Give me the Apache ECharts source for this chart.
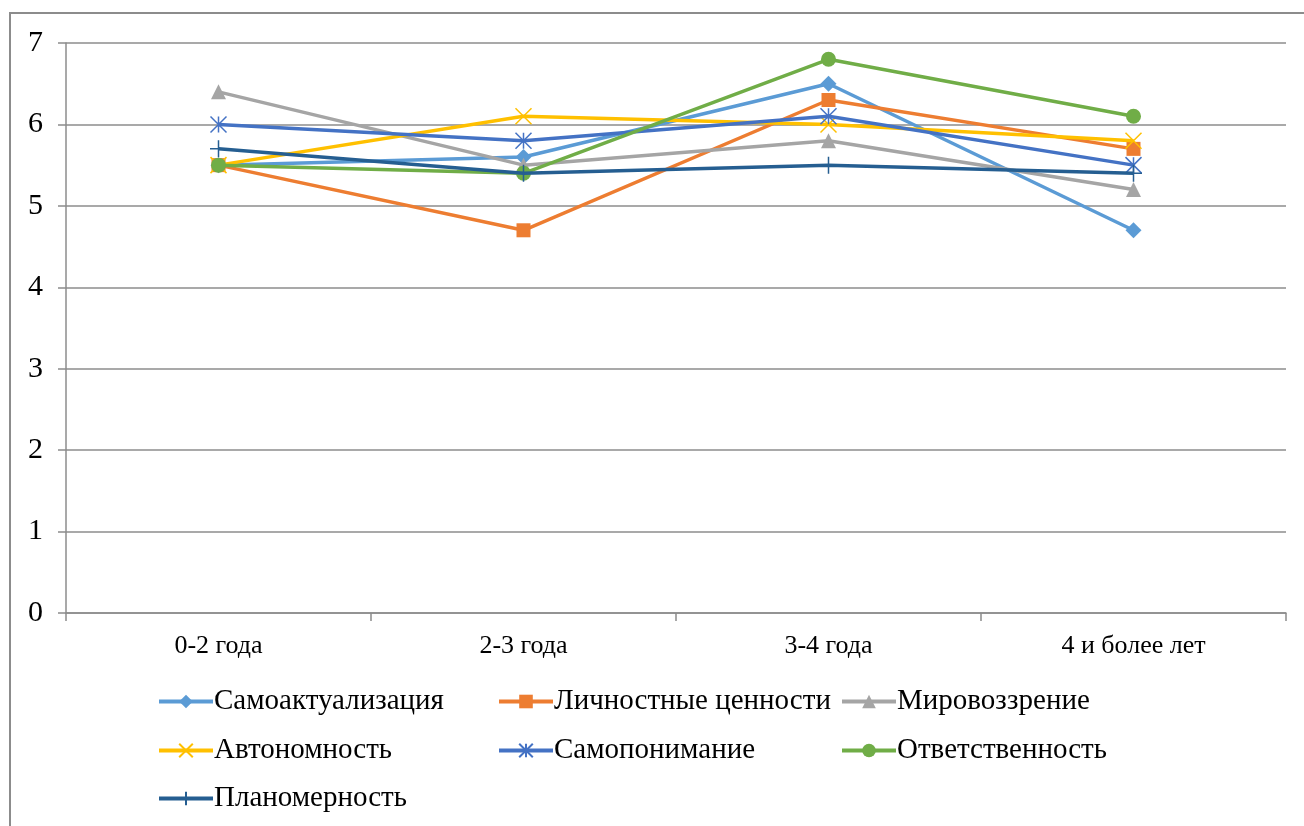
<!DOCTYPE html>
<html><head><meta charset="utf-8">
<script src="https://cdn.jsdelivr.net/npm/echarts@6/dist/echarts.min.js"></script>
<style>html,body{margin:0;padding:0;background:#fff;}#c{width:1304px;height:826px;}</style>
</head><body><div id="c"></div>
<script>
const categories = ['0-2 года', '2-3 года', '3-4 года', '4 и более лет'];
const seriesNames = ['Самоактуализация', 'Личностные ценности', 'Мировоззрение', 'Автономность', 'Самопонимание', 'Ответственность', 'Планомерность'];
const samoaktualizatsiya = [5.5, 5.6, 6.5, 4.7];
const lichnostnye = [5.5, 4.7, 6.3, 5.7];
const mirovozzrenie = [6.4, 5.5, 5.8, 5.2];
const avtonomnost = [5.5, 6.1, 6.0, 5.8];
const samoponimanie = [6.0, 5.8, 6.1, 5.5];
const otvetstvennost = [5.5, 5.4, 6.8, 6.1];
const planomernost = [5.7, 5.4, 5.5, 5.4];
const yTicks = [0, 1, 2, 3, 4, 5, 6, 7];

const values = [samoaktualizatsiya, lichnostnye, mirovozzrenie, avtonomnost, samoponimanie, otvetstvennost, planomernost];
const colors = ['#5B9BD5', '#ED7D31', '#A5A5A5', '#FFC000', '#4472C4', '#70AD47', '#255E91'];
const symbols = ['diamond', 'rect', 'triangle',
  'path://M0,0L10,10M10,0L0,10',
  'path://M0,0L10,10M10,0L0,10M5,0L5,10',
  'circle',
  'path://M5,0L5,10M0,5L10,5'];
const sizes = [16, 14, 15, 16, 16, 15, 17];
const stroked = [false, false, false, true, true, false, true];
const font = '"Liberation Serif", "Times New Roman", serif';

const series = seriesNames.map((n, i) => ({
  name: n, type: 'line', data: values[i],
  symbol: symbols[i], symbolSize: sizes[i], showSymbol: true,
  lineStyle: { color: colors[i], width: 3.5 },
  itemStyle: stroked[i] ? { color: 'rgba(0,0,0,0)', borderColor: colors[i], borderWidth: 1.5 } : { color: colors[i], borderColor: colors[i], borderWidth: 0 },
  emphasis: { disabled: true }, animation: false, z: 2 + i
}));

const legendPos = [
  [157, 687], [497, 687], [840, 687],
  [157, 736], [497, 736], [840, 736],
  [157, 784]
];
const legends = seriesNames.map((n, i) => ({
  data: [n], left: legendPos[i][0], top: legendPos[i][1],
  itemWidth: 54, itemHeight: 17, itemGap: 4, padding: 0,
  lineStyle: { width: 4 },
  textStyle: { fontFamily: font, fontSize: 29, color: '#000', padding: [0, 0, 0, -4] },
  selectedMode: false
}));

const chart = echarts.init(document.getElementById('c'), null, { renderer: 'canvas' });
chart.setOption({
  backgroundColor: '#fff',
  animation: false,
  graphic: [{ type: 'rect', shape: { x: 10, y: 13, width: 1400, height: 1000 }, style: { fill: 'none', stroke: '#8c8c8c', lineWidth: 2 }, silent: true }],
  grid: { left: 66, right: 18, top: 43, bottom: 213, containLabel: false },
  legend: legends,
  xAxis: {
    type: 'category', data: categories, boundaryGap: true,
    axisLine: { show: true, lineStyle: { color: '#8c8c8c', width: 1.5 } },
    axisTick: { show: true, length: 8, lineStyle: { color: '#8c8c8c', width: 1.5 } },
    axisLabel: { fontFamily: font, fontSize: 26, color: '#000', margin: 20 }
  },
  yAxis: {
    type: 'value', min: 0, max: 7, interval: 1,
    axisLine: { show: true, lineStyle: { color: '#8c8c8c', width: 1.5 } },
    axisTick: { show: true, length: 8, lineStyle: { color: '#8c8c8c', width: 1.5 } },
    splitLine: { show: true, lineStyle: { color: '#8c8c8c', width: 1.5 } },
    axisLabel: { fontFamily: font, fontSize: 30, color: '#000', margin: 23, formatter: v => yTicks.includes(v) ? String(v) : '' }
  },
  series: series
});
</script></body></html>
